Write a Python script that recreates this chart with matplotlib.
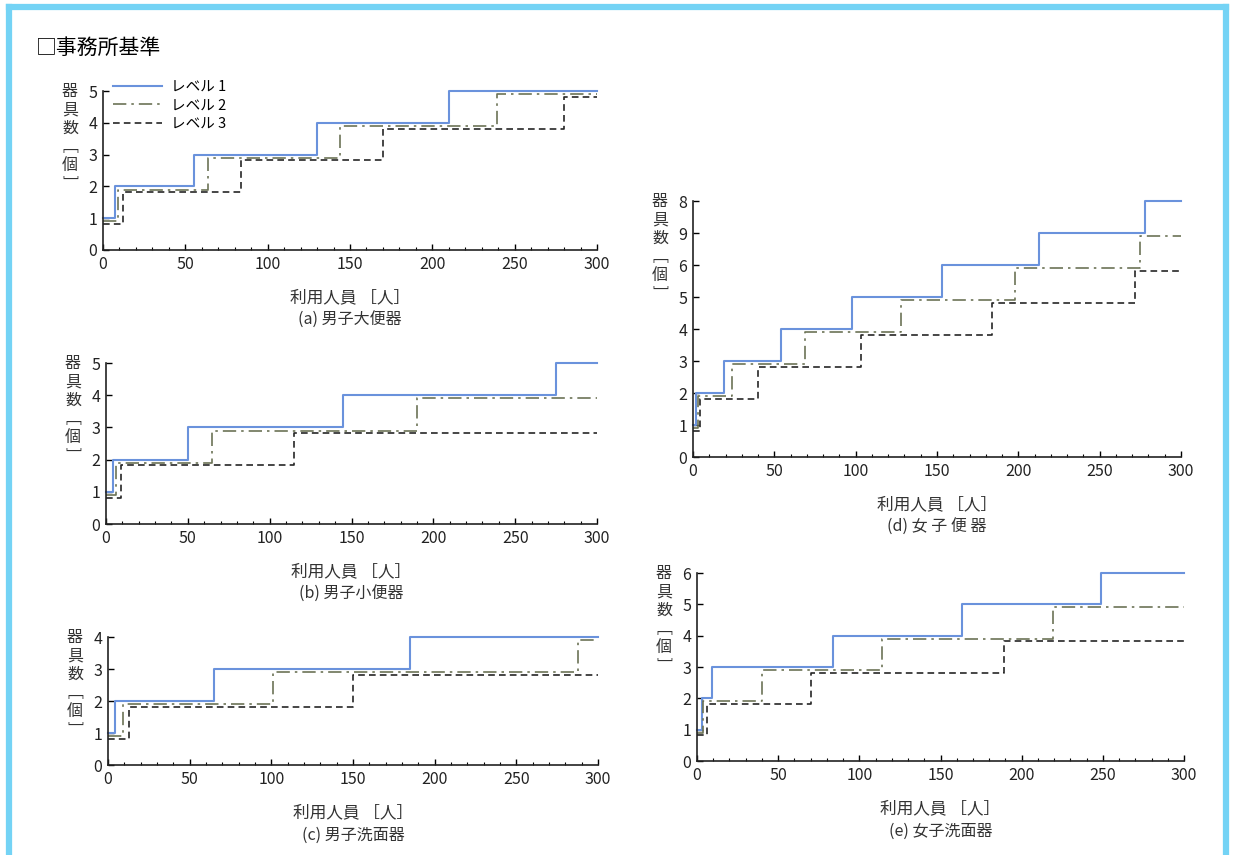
import matplotlib
matplotlib.use('Agg')
import matplotlib.pyplot as plt
from matplotlib.lines import Line2D
from matplotlib.ticker import MultipleLocator

plt.rcParams['font.family'] = ['Noto Sans CJK JP', 'DejaVu Sans']

# 凡例
levels = ['レベル 1', 'レベル 2', 'レベル 3']

# 各パネル: 器具数が1つ増える利用人員（段の切り替わり点）
a_l1 = [7, 55, 130, 210]
a_l2 = [9, 64, 144, 239]
a_l3 = [12, 84, 170, 280]

b_l1 = [4, 50, 145, 275]
b_l2 = [6, 65, 190]
b_l3 = [9, 115]

c_l1 = [4, 65, 185]
c_l2 = [9, 101, 288]
c_l3 = [13, 150]

d_l1 = [2, 19, 54, 98, 153, 213, 278]
d_l2 = [3, 24, 69, 128, 198, 275]
d_l3 = [4, 40, 103, 184, 272]

e_l1 = [3, 9, 84, 163, 249]
e_l2 = [4, 40, 114, 219]
e_l3 = [6, 70, 189]

a_yticks = ['0', '1', '2', '3', '4', '5']
b_yticks = ['0', '1', '2', '3', '4', '5']
c_yticks = ['0', '1', '2', '3', '4']
d_yticks = ['0', '1', '2', '3', '4', '5', '6', '9', '8']   # 原図のまま
e_yticks = ['0', '1', '2', '3', '4', '5', '6']

captions = ['(a) 男子大便器', '(b) 男子小便器', '(c) 男子洗面器',
            '(d) 女 子 便 器', '(e) 女子洗面器']
xlabel = '利用人員 ［人］'
ylabel = '器\n具\n数\n﹇\n個\n﹈'
x_max = 300

# 見た目の設定
colors = ['#6a92dc', '#6c7356', '#262626']
styles = ['-', (0, (8, 3, 1.5, 3)), (0, (4, 2.5))]
widths = [1.5, 1.2, 1.2]
offsets = [0, -0.1, -0.18]   # 線が重ならないように少しずらしてある

W, H = 1239, 855
fig = plt.figure(figsize=(W / 100, H / 100), dpi=100)

# 枠
frame_c = '#74d3f5'
fig.add_artist(Line2D([8.5 / W, 8.5 / W], [0, 1 - 7 / H], color=frame_c, lw=4.5))
fig.add_artist(Line2D([8.5 / W, 1226 / W], [1 - 7 / H, 1 - 7 / H], color=frame_c, lw=4.5))
fig.add_artist(Line2D([1226 / W, 1226 / W], [0, 1 - 7 / H], color=frame_c, lw=4.5))

fig.text(36 / W, 1 - 48 / H, '□事務所基準', fontsize=15, va='center', ha='left')


def px_axes(x0, x1, y0, ytop):
    return fig.add_axes([x0 / W, 1 - y0 / H, (x1 - x0) / W, (y0 - ytop) / H])


def draw_panel(ax, series, yticklabels, caption, legend=False):
    ymax = len(yticklabels) - 1
    for i, br in enumerate(series):
        xs = [0] + br + [x_max]
        ys = [k + 1 + offsets[i] for k in range(len(br) + 1)]
        ys = ys + [ys[-1]]
        ax.step(xs, ys, where='post', color=colors[i], ls=styles[i],
                lw=widths[i], clip_on=False, label=levels[i])
    ax.set_xlim(0, x_max)
    ax.set_ylim(0, ymax)
    ax.set_yticks(range(ymax + 1))
    ax.set_yticklabels(yticklabels)
    ax.xaxis.set_major_locator(MultipleLocator(50))
    ax.xaxis.set_minor_locator(MultipleLocator(10))
    for s in ['top', 'right']:
        ax.spines[s].set_visible(False)
    for s in ['left', 'bottom']:
        ax.spines[s].set_linewidth(1.2)
        ax.spines[s].set_color('#222222')
    ax.tick_params(axis='both', which='major', direction='in', length=4.5,
                   width=1, labelsize=11.5, labelcolor='#222222', pad=4)
    ax.tick_params(axis='x', which='minor', direction='in', length=2.5, width=0.8)
    ax.patch.set_alpha(0)

    ax.annotate(ylabel, xy=(0, 1), xycoords='axes fraction',
                xytext=(-33, 8), textcoords='offset pixels',
                ha='center', va='top', fontsize=11.5, linespacing=1.12,
                color='#333333')
    ax.annotate(xlabel, xy=(0.5, 0), xycoords='axes fraction',
                xytext=(0, -48), textcoords='offset pixels',
                ha='center', va='center', fontsize=12, color='#333333')
    ax.annotate(caption, xy=(0.5, 0), xycoords='axes fraction',
                xytext=(0, -70), textcoords='offset pixels',
                ha='center', va='center', fontsize=11.5, color='#333333')
    if legend:
        ax.legend(loc='upper left', bbox_to_anchor=(0.02, 1.07), frameon=False,
                  fontsize=10.5, handlelength=3.4, handletextpad=0.6,
                  labelspacing=0.3, borderpad=0, borderaxespad=0)


ax_a = px_axes(103, 597, 250, 91)
draw_panel(ax_a, [a_l1, a_l2, a_l3], a_yticks, captions[0], legend=True)

ax_b = px_axes(106, 597, 524, 363)
draw_panel(ax_b, [b_l1, b_l2, b_l3], b_yticks, captions[1])

ax_c = px_axes(108, 598, 765, 637)
draw_panel(ax_c, [c_l1, c_l2, c_l3], c_yticks, captions[2])

ax_d = px_axes(693, 1181, 457, 201)
draw_panel(ax_d, [d_l1, d_l2, d_l3], d_yticks, captions[3])

ax_e = px_axes(697, 1184, 761, 573)
draw_panel(ax_e, [e_l1, e_l2, e_l3], e_yticks, captions[4])

fig.savefig('out.png', dpi=100, facecolor='white')
